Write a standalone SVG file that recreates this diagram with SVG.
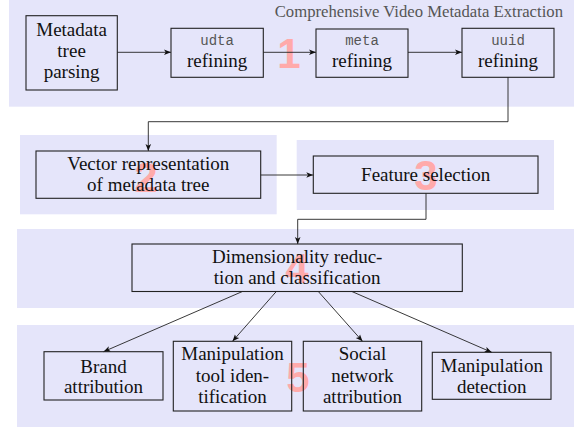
<svg xmlns="http://www.w3.org/2000/svg" width="574" height="427" viewBox="0 0 574 427">
<style>
.panel{fill:#e5e5fa}
.box{fill:none;stroke:#222;stroke-width:1.1}
.t{font-size:19px;fill:#111;text-anchor:middle}
.m{font-size:14px;fill:#555;text-anchor:middle}
.num{font-size:42px;font-weight:bold;fill:#ffaaaa;text-anchor:middle}
.title{font-size:16.7px;fill:#555;text-anchor:end}
.c{fill:none;stroke:#222;stroke-width:0.9}
</style>
<defs>
<marker id="ah" viewBox="0 0 10 10" refX="10" refY="5" markerWidth="7" markerHeight="7" markerUnits="userSpaceOnUse" orient="auto">
<path d="M0,1 L10,5 L0,9 L2.5,5 Z" fill="#111"/>
</marker>
</defs>
<g id="panels">
<rect class="panel" x="9" y="0" width="565" height="106.7"/>
<rect class="panel" x="20" y="135" width="256.7" height="79.3"/>
<rect class="panel" x="296.7" y="140" width="257.3" height="70"/>
<rect class="panel" x="17" y="229" width="557" height="79"/>
<rect class="panel" x="17" y="325" width="557" height="102"/>
<text class="title" font-family="'Liberation Serif', 'Times New Roman', serif" x="563" y="17.3">Comprehensive Video Metadata Extraction</text>
</g>
<g id="numbers" font-family="'Liberation Sans', Arial, sans-serif">
<text class="num" x="289" y="68">1</text>
<text class="num" x="146" y="192">2</text>
<text class="num" x="426" y="190">3</text>
<text class="num" x="297" y="283">4</text>
<text class="num" x="298" y="391.5">5</text>
</g>
<g id="connectors">
<line class="c" x1="117.3" y1="52.3" x2="171" y2="52.3" marker-end="url(#ah)"/>
<line class="c" x1="263.3" y1="52.3" x2="316" y2="52.3" marker-end="url(#ah)"/>
<line class="c" x1="408" y1="52.3" x2="462" y2="52.3" marker-end="url(#ah)"/>
<polyline class="c" points="508,77 508,121.7 148.3,121.7 148.3,151" marker-end="url(#ah)"/>
<line class="c" x1="260.7" y1="175" x2="313.3" y2="175" marker-end="url(#ah)"/>
<polyline class="c" points="426,193.3 426,219.3 297.7,219.3 297.7,244" marker-end="url(#ah)"/>
<line class="c" x1="242.4" y1="291.5" x2="103.5" y2="351.7" marker-end="url(#ah)"/>
<line class="c" x1="276.3" y1="291.5" x2="232.5" y2="341.3" marker-end="url(#ah)"/>
<line class="c" x1="318.3" y1="291.5" x2="362.5" y2="341.3" marker-end="url(#ah)"/>
<line class="c" x1="351.9" y1="291.5" x2="491.7" y2="352.3" marker-end="url(#ah)"/>
</g>
<g id="nodes" font-family="'Liberation Serif', 'Times New Roman', serif">
<g id="parsing">
<rect class="box" x="26" y="15.7" width="91.3" height="74.3"/>
<text class="t" x="71.6" y="36">Metadata</text>
<text class="t" x="71.6" y="57">tree</text>
<text class="t" x="71.6" y="78">parsing</text>
</g>
<g id="udta">
<rect class="box" x="171" y="28.3" width="92.3" height="49"/>
<text class="m" font-family="'Liberation Mono', 'Courier New', monospace" x="217.1" y="45">udta</text>
<text class="t" x="217.1" y="66.7">refining</text>
</g>
<g id="meta">
<rect class="box" x="316" y="29" width="92" height="48.3"/>
<text class="m" font-family="'Liberation Mono', 'Courier New', monospace" x="362" y="45">meta</text>
<text class="t" x="362" y="66.7">refining</text>
</g>
<g id="uuid">
<rect class="box" x="462" y="28.3" width="92" height="49"/>
<text class="m" font-family="'Liberation Mono', 'Courier New', monospace" x="508" y="45">uuid</text>
<text class="t" x="508" y="66.7">refining</text>
</g>
<g id="vector">
<rect class="box" x="36" y="151" width="224.7" height="47.3"/>
<text class="t" x="148.3" y="170">Vector representation</text>
<text class="t" x="148.3" y="190.7">of metadata tree</text>
</g>
<g id="feature">
<rect class="box" x="313.3" y="156" width="224.7" height="37.3"/>
<text class="t" x="425.7" y="180.7">Feature selection</text>
</g>
<g id="dimred">
<rect class="box" x="132" y="244" width="330.3" height="47.5"/>
<text class="t" x="297.2" y="263">Dimensionality reduc-</text>
<text class="t" x="297.2" y="284">tion and classification</text>
</g>
<g id="brand">
<rect class="box" x="44" y="351.7" width="119" height="48.3"/>
<text class="t" x="103.5" y="372.7">Brand</text>
<text class="t" x="103.5" y="393.3">attribution</text>
</g>
<g id="tool">
<rect class="box" x="173.3" y="341.3" width="118.4" height="69.7"/>
<text class="t" x="232.5" y="360">Manipulation</text>
<text class="t" x="232.5" y="381.7">tool iden-</text>
<text class="t" x="232.5" y="402.7">tification</text>
</g>
<g id="social">
<rect class="box" x="303.3" y="341.3" width="118.4" height="69.7"/>
<text class="t" x="362.5" y="360">Social</text>
<text class="t" x="362.5" y="381.7">network</text>
<text class="t" x="362.5" y="402.7">attribution</text>
</g>
<g id="detection">
<rect class="box" x="432.3" y="352.3" width="118.7" height="47"/>
<text class="t" x="491.7" y="371.7">Manipulation</text>
<text class="t" x="491.7" y="392.7">detection</text>
</g>
</g>
</svg>
